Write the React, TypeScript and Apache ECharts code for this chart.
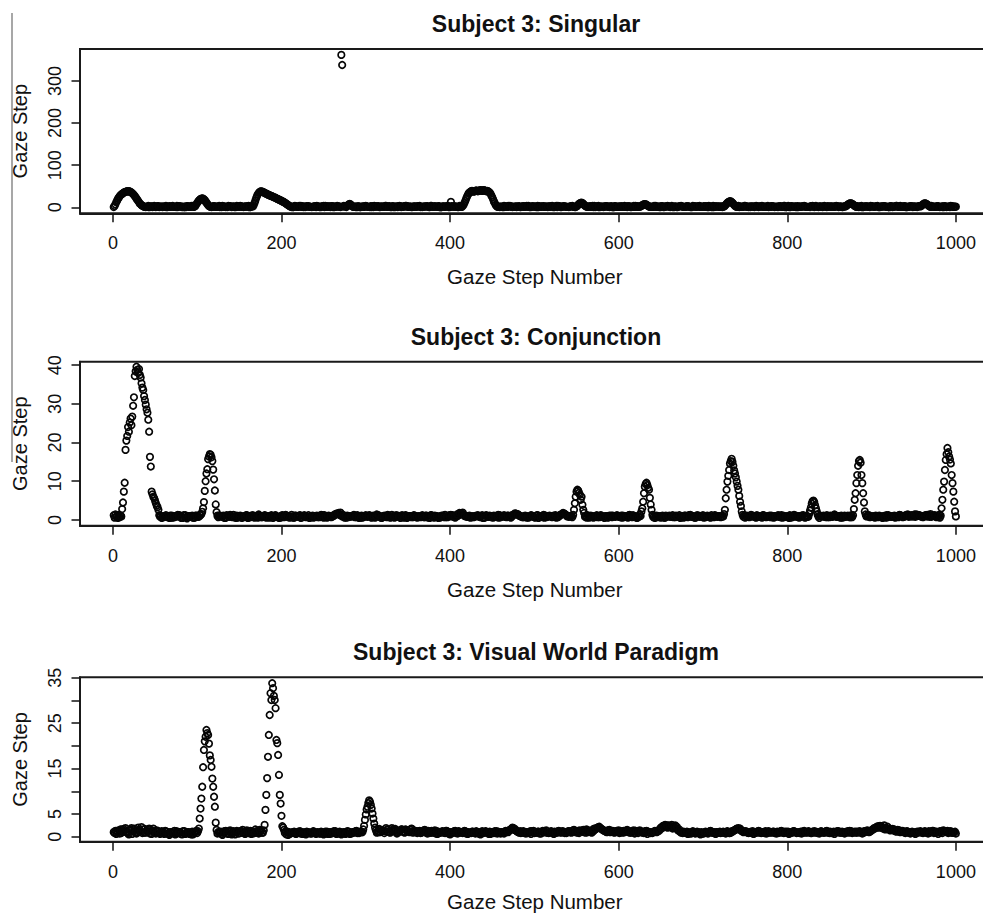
import React, { useEffect, useRef } from 'react';
import * as echarts from 'echarts';

const TITLES = ['Subject 3: Singular', 'Subject 3: Conjunction', 'Subject 3: Visual World Paradigm'];
const X_NAME = 'Gaze Step Number';
const Y_NAME = 'Gaze Step';
const X_TICKS = [0, 200, 400, 600, 800, 1000];
const SINGULAR_Y_TICKS = [0, 100, 200, 300];
const CONJ_Y_TICKS = [0, 10, 20, 30, 40];
const VWP_Y_TICKS = [0, 5, 10, 15, 20, 25, 30, 35];
const VWP_Y_LABELS = [0, 5, 15, 25, 35];

// baseline samples: gaze step number = offset + 3 * index (offset 1 for *BaseA, 2 for *BaseB, 3 for *BaseC)
const BASE_STEP = 3;

const singularBaseA = [
  1.5, 2.8, 0.6, 3.2, 1.1, 2.4, 0.3, 1.8, 3.5, 2.0, 0.7, 1.3, 2.6, 1.0, 0.4, 2.2, 3.0, 1.4, 0.5, 2.1,
  1.2, 0.3, 2.7, 1.6, 0.8, 3.1, 2.0, 0.5, 1.4, 2.5, 0.9, 1.7, 3.3, 0.6, 2.2, 1.0, 0.4, 2.9, 1.5, 0.8,
  2.3, 1.1, 0.5, 3.0, 1.8, 0.7, 2.6, 1.3, 0.4, 2.1, 3.4, 0.9, 1.6, 2.8, 0.6, 1.2, 2.4, 0.3, 1.9, 2.7,
  1.0, 0.6, 2.5, 1.4, 3.1, 0.8, 2.0, 1.2, 0.4, 2.9, 1.7, 0.5, 2.3, 1.1, 3.2, 0.7, 1.5, 2.6, 0.9, 1.8,
  0.5, 2.4, 1.3, 3.0, 0.8, 1.9, 2.7, 0.4, 1.6, 2.2, 1.0, 3.3, 0.6, 1.4, 2.8, 1.1, 0.3, 2.0, 1.7, 0.9,
  2.6, 1.2, 0.7, 3.1, 1.9, 0.5, 2.3, 1.5, 0.9, 2.9, 1.3, 0.4, 2.1, 3.4, 0.8, 1.6, 2.5, 1.0, 0.6, 2.2,
  1.4, 3.0, 0.7, 1.8, 2.6, 0.5, 1.2, 2.9, 1.0, 0.4, 2.3, 1.7, 3.2, 0.8, 1.5, 2.4, 0.6, 1.1, 2.8, 1.9,
  0.9, 2.5, 1.3, 0.5, 3.1, 1.8, 0.7, 2.2, 1.4, 2.9, 0.6, 1.6, 2.7, 1.0, 0.4, 2.3, 3.0, 1.2, 0.8, 2.0,
  1.5, 0.6, 2.8, 1.1, 3.3, 0.9, 1.7, 2.4, 0.5, 1.3, 2.9, 0.8, 2.1, 1.4, 0.4, 3.0, 1.9, 0.7, 2.5, 1.2,
  0.6, 2.2, 1.6, 3.2, 0.9, 2.7, 1.3, 0.5, 2.0, 1.0, 3.1, 1.8, 0.4, 2.4, 1.1, 2.9, 0.7, 1.5, 2.6, 0.8,
  1.9, 1.2, 3.0, 0.6, 2.3, 1.4, 0.8, 2.8, 1.1, 3.4, 0.5, 1.7, 2.5, 0.9, 2.1, 1.3, 0.4, 2.7, 1.6, 3.1,
  0.7, 2.0, 1.4, 0.5, 2.9, 1.8, 1.0, 2.4, 0.6, 3.2, 1.5, 2.2, 0.8, 1.2, 2.7, 0.4, 1.9, 3.0, 1.1, 2.3,
  0.9, 1.6, 2.8, 1.2, 0.5, 2.5, 1.7, 3.1, 0.8, 1.4, 2.6, 0.6, 2.0, 1.3, 3.3, 0.7, 1.8, 2.4, 1.0, 0.5,
  2.9, 1.5, 0.8, 2.2, 1.1, 3.0, 0.6, 1.9, 2.6, 1.3, 0.4, 2.3, 1.6, 3.2, 0.9, 1.2, 2.7, 0.5, 1.8, 2.1,
  1.0, 3.1, 0.7, 1.5, 2.4, 0.9, 2.8, 1.3, 0.5, 2.0, 1.7, 3.3, 0.8, 1.4, 2.6, 1.1, 0.4, 2.2, 1.9, 0.6,
  2.5, 1.2, 3.0, 0.7, 1.6, 2.3, 1.0, 2.9, 0.5, 1.8, 1.4, 3.2, 0.8, 2.1, 1.1, 2.7, 0.6, 1.5, 2.4, 1.0,
  3.0, 1.3, 0.6, 2.2, 1.7, 0.9, 2.8, 1.2, 0.4, 2.0, 1.6, 3.1, 0.8, 1.5,
];
const singularBaseB = [
  2.1, 0.8, 1.6, 2.9, 0.4, 1.9, 2.5, 1.0, 0.6, 2.7, 1.3, 3.1, 0.9, 1.7, 2.3, 0.5, 1.4, 2.8, 1.1, 0.7,
  2.4, 1.5, 0.9, 3.0, 1.2, 0.6, 2.2, 1.8, 0.4, 2.6, 1.0, 3.2, 1.4, 0.7, 2.0, 1.6, 2.9, 0.5, 1.3, 2.5,
  0.8, 1.9, 2.7, 1.1, 0.5, 3.1, 1.7, 2.2, 0.9, 1.4, 2.6, 0.6, 1.8, 3.0, 1.2, 0.4, 2.3, 1.5, 2.8, 1.0,
  1.6, 2.9, 0.7, 1.3, 2.4, 3.3, 0.9, 1.8, 1.1, 2.6, 0.5, 2.1, 1.4, 3.0, 0.8, 1.7, 2.5, 1.2, 0.6, 2.2,
  3.1, 1.0, 1.9, 0.5, 2.7, 1.4, 2.3, 0.8, 3.2, 1.6, 0.6, 2.0, 1.2, 2.8, 0.9, 1.5, 2.4, 0.4, 1.8, 2.6,
  1.1, 0.7, 2.9, 1.6, 2.2, 0.5, 1.3, 3.0, 1.9, 0.8, 2.5, 1.4, 0.6, 2.1, 1.7, 3.3, 1.0, 2.4, 0.9, 1.5,
  2.7, 0.6, 1.8, 2.3, 1.1, 3.1, 0.8, 1.5, 2.6, 0.4, 1.9, 1.3, 2.9, 0.7, 2.2, 1.6, 0.5, 2.8, 1.2, 2.0,
  1.4, 3.2, 0.9, 1.7, 2.5, 1.0, 0.6, 2.3, 1.8, 2.9, 0.5, 1.3, 2.1, 1.6, 3.0, 0.8, 1.9, 2.4, 1.1, 0.7,
  2.6, 1.5, 0.8, 3.1, 1.2, 2.0, 1.7, 0.4, 2.8, 1.4, 0.9, 2.3, 1.0, 3.3, 1.8, 0.6, 2.5, 1.3, 2.1, 0.9,
  1.7, 3.0, 0.5, 2.4, 1.1, 1.9, 2.7, 0.8, 1.4, 3.2, 0.6, 2.2, 1.5, 0.9, 2.8, 1.2, 1.8, 0.4, 2.5, 1.6,
  0.9, 2.3, 1.3, 2.9, 0.7, 1.6, 3.1, 1.0, 2.0, 0.5, 1.8, 2.6, 1.2, 0.8, 3.0, 1.5, 2.2, 0.6, 1.9, 2.7,
  1.1, 0.4, 2.4, 1.7, 3.3, 0.9, 1.4, 2.1, 0.6, 2.8, 1.3, 1.9, 0.8, 2.5, 1.0, 3.1, 1.6, 0.5, 2.3, 1.2,
  2.0, 1.5, 0.7, 2.9, 1.8, 1.1, 2.6, 0.5, 1.4, 3.0, 0.9, 2.2, 1.7, 0.6, 2.4, 1.3, 3.2, 0.8, 1.9, 1.0,
  2.7, 0.6, 1.5, 2.3, 1.0, 3.1, 1.8, 0.4, 2.0, 1.4, 2.8, 0.9, 1.6, 2.5, 1.2, 0.7, 3.0, 1.9, 1.1, 2.2,
  0.5, 1.7, 2.6, 1.3, 0.8, 2.9, 1.5, 2.1, 0.6, 3.3, 1.0, 1.8, 2.4, 0.9, 1.4, 2.7, 0.5, 2.0, 1.6, 3.0,
  1.2, 2.3, 0.7, 1.9, 2.8, 1.1, 0.6, 2.5, 1.4, 3.1, 0.9, 1.7, 2.2, 0.4, 1.5, 2.9, 1.3, 0.8, 2.6, 1.8,
  1.0, 2.4, 0.6, 3.0, 1.6, 2.1, 0.9, 1.4, 2.7, 0.5, 1.9, 2.3, 1.2,
];
const singularBaseC = [
  1.8, 0.5, 2.6, 1.2, 3.0, 0.8, 1.5, 2.3, 0.4, 2.9, 1.1, 1.9, 0.7, 3.2, 1.4, 2.1, 0.6, 2.7, 1.0, 1.6,
  3.1, 0.9, 2.0, 1.3, 0.5, 2.8, 1.7, 0.4, 2.4, 1.1, 3.3, 0.8, 1.5, 2.2, 0.6, 1.9, 2.9, 1.2, 0.7, 2.5,
  1.4, 3.0, 0.6, 2.1, 1.0, 2.7, 0.5, 1.8, 3.2, 1.3, 0.8, 2.3, 1.6, 0.4, 2.9, 1.1, 2.0, 0.7, 3.1, 1.5,
  0.9, 2.4, 1.2, 0.5, 3.0, 1.8, 2.6, 0.7, 1.4, 2.2, 0.4, 3.3, 1.0, 1.7, 2.8, 0.6, 2.1, 1.3, 0.8, 2.7,
  1.6, 0.4, 2.3, 3.1, 1.1, 0.7, 2.9, 1.5, 2.0, 0.5, 1.8, 2.6, 1.2, 3.2, 0.8, 1.4, 2.4, 0.6, 1.9, 3.0,
  1.0, 2.5, 0.5, 1.7, 2.8, 1.3, 0.9, 3.1, 1.6, 0.4, 2.2, 1.1, 2.7, 0.7, 1.9, 3.3, 1.4, 0.6, 2.3, 1.2,
  2.9, 0.8, 1.5, 2.4, 0.5, 3.0, 1.8, 1.1, 2.6, 0.7, 1.3, 2.1, 0.4, 2.8, 1.6, 1.0, 3.2, 1.9, 0.6, 2.2,
  1.3, 2.7, 0.9, 1.6, 3.1, 0.5, 2.3, 1.4, 0.8, 2.9, 1.2, 2.0, 0.6, 1.7, 2.5, 1.0, 3.3, 0.7, 1.5, 2.4,
  0.6, 1.9, 2.8, 1.1, 0.4, 2.6, 1.5, 3.0, 0.9, 2.1, 1.3, 0.5, 2.7, 1.8, 1.0, 3.2, 0.7, 2.3, 1.6, 0.8,
  2.5, 1.2, 0.6, 3.1, 1.7, 2.2, 0.9, 1.4, 2.8, 0.5, 1.9, 3.0, 1.1, 0.7, 2.4, 1.5, 2.9, 0.4, 1.8, 1.3,
  2.6, 0.8, 1.6, 2.1, 0.5, 3.2, 1.0, 1.9, 2.7, 1.3, 0.6, 2.3, 1.7, 3.0, 0.9, 1.4, 2.5, 0.7, 2.0, 1.1,
  3.1, 1.5, 0.6, 2.4, 1.8, 0.9, 2.9, 1.2, 0.5, 2.2, 1.6, 3.3, 0.8, 1.3, 2.6, 1.0, 0.4, 2.8, 1.7, 2.1,
  0.7, 1.4, 3.0, 1.9, 0.6, 2.5, 1.1, 2.0, 0.9, 3.2, 1.5, 0.5, 2.3, 1.8, 1.2, 2.7, 0.8, 1.6, 3.1, 1.0,
  2.2, 1.3, 0.7, 2.8, 1.5, 0.4, 3.0, 1.9, 1.1, 2.4, 0.6, 1.7, 2.9, 1.0, 0.8, 2.5, 1.4, 3.2, 0.5, 1.8,
  2.6, 0.9, 1.6, 2.2, 1.2, 3.1, 0.7, 1.4, 2.0, 0.5, 2.8, 1.7, 1.0, 2.3, 0.6, 3.0, 1.5, 1.9, 0.8, 2.4,
  1.1, 2.9, 0.6, 1.8, 2.5, 1.3, 0.4, 2.1, 1.7, 3.3, 0.9, 1.5, 2.7, 0.7, 1.2, 2.3, 1.9, 0.5, 2.8, 1.4,
  2.0, 0.8, 3.1, 1.6, 1.1, 2.5, 0.6, 1.9, 2.4, 1.0, 0.7, 2.8, 1.3,
];

// [first gaze step number, consecutive values]
const singularPeaks: [number, number[]][] = [
  [1, [0.5, 3, 7, 12, 16, 20, 23, 26, 28.5, 30.5, 32, 33.5, 35, 36, 36.5, 37.5, 38, 38.5, 38, 37.5, 36.5, 35, 33.5, 31.5, 29, 26.5, 24, 21, 18, 15, 12, 9, 7, 5, 3.5, 2.5, 1.5, 1]],
  [97, [2, 4, 7, 10, 13, 16, 18, 19.5, 20.5, 21, 20.5, 19, 17, 14, 11, 8, 5, 3, 2, 1]],
  [166, [2, 5, 10, 16, 22, 27, 31, 34, 36, 37.5, 38, 37, 36.5, 35, 34.5, 33, 32.5, 31.5, 30, 29.5, 28, 27.5, 27, 25.5, 25, 24, 23.5, 22, 21.5, 20, 19.5, 18, 17.5, 16, 15.5, 14, 13.5, 12, 11, 9.5, 8, 6.5, 5, 3.5, 2.5, 1.5, 1]],
  [271, [362, 338]],
  [278, [3, 5, 7, 8, 6.5, 4.5, 2.5]],
  [401, [13]],
  [414, [1, 3, 6, 10, 15, 20, 25, 29, 33, 35, 37, 38, 39, 38, 37, 38, 39, 40, 39, 38, 39, 40, 41, 40, 39, 40, 41, 40, 39, 38, 39, 38, 37, 35, 32, 28, 24, 19, 14, 10, 6, 3, 1.5, 1]],
  [550, [2, 4, 6, 8, 9.5, 10.5, 11, 10, 8, 6, 4, 2.5, 1.5]],
  [626, [2, 3.5, 5, 6, 7, 7.5, 7, 6, 4.5, 3, 2, 1]],
  [725, [2, 4, 6, 8.5, 10.5, 12.5, 13.5, 14.5, 14, 12.5, 10.5, 8, 5.5, 3.5, 2, 1]],
  [869, [2, 3.5, 5, 6.5, 8, 9, 9.5, 9, 8, 6.5, 5, 3.5, 2, 1]],
  [958, [2, 3.5, 5.5, 7, 8.5, 9.5, 9, 8, 6.5, 5, 3.5, 2, 1]],
];

const conjBaseA = [
  1.1, 0.6, 1.3, 0.8, 1.0, 0.5, 1.2, 0.7, 0.9, 1.4, 0.6, 1.1, 0.8, 1.3, 0.5, 1.0, 0.7, 1.2, 0.9, 0.6,
  1.0, 0.8, 0.5, 1.1, 0.7, 0.9, 1.2, 0.6, 1.0, 0.4, 0.8, 1.1, 0.6, 0.9, 1.3, 0.7, 1.0, 0.5, 0.8, 1.2,
  0.9, 0.6, 1.1, 0.8, 0.5, 1.0, 1.3, 0.7, 0.9, 0.6, 1.1, 0.8, 1.0, 0.5, 0.7, 1.2, 0.9, 0.6, 1.0, 0.8,
  1.1, 0.7, 0.9, 0.5, 1.2, 0.8, 0.6, 1.0, 1.3, 0.7, 0.9, 0.6, 1.1, 0.8, 0.5, 1.0, 0.7, 1.2, 0.9, 0.6,
  1.0, 0.8, 1.3, 0.6, 0.9, 1.1, 0.7, 1.0, 1.5, 1.8, 1.2, 0.8, 0.6, 1.0, 0.9, 1.3, 0.7, 0.5, 1.1, 0.8,
  0.9, 1.2, 0.6, 1.0, 1.4, 0.8, 0.5, 1.1, 0.7, 0.9, 1.3, 0.6, 1.0, 0.8, 1.2, 0.7, 0.5, 1.0, 0.9, 1.1,
  0.6, 0.8, 1.2, 0.7, 1.0, 0.5, 0.9, 1.1, 0.8, 0.6, 1.0, 1.3, 0.7, 0.9, 1.2, 0.6, 1.0, 1.6, 1.9, 1.1,
  0.8, 0.6, 1.0, 0.9, 1.2, 0.7, 0.5, 1.1, 0.8, 1.0, 0.6, 0.9, 1.3, 0.7, 1.0, 0.8, 1.1, 0.6, 1.2, 1.6,
  1.4, 0.9, 0.7, 1.0, 0.6, 1.2, 0.8, 1.0, 0.5, 0.9, 1.3, 0.7, 1.0, 0.8, 1.1, 0.6, 0.9, 1.4, 1.7, 1.2,
  0.8, 1.0, 0.7, 0.9, 1.0, 0.8, 0.9, 1.1, 0.6, 1.0, 0.8, 1.2, 0.7, 0.9, 0.5, 1.0, 1.1, 0.7, 0.9, 1.2,
  0.8, 0.6, 1.0, 0.9, 1.3, 0.7, 1.0, 0.5, 0.8, 1.1, 0.9, 0.6, 1.0, 0.8, 1.2, 0.7, 0.9, 1.1, 0.6, 1.0,
  0.8, 1.2, 0.7, 0.9, 0.5, 1.0, 1.1, 0.7, 1.3, 0.8, 0.6, 1.0, 0.9, 1.2, 0.7, 1.0, 0.6, 0.8, 1.1, 0.9,
  0.7, 1.0, 0.8, 1.2, 0.6, 0.9, 1.0, 0.8, 1.1, 0.7, 1.0, 0.8, 1.3, 0.9, 0.6, 1.0, 0.8, 1.2, 0.7, 0.9,
  1.1, 0.6, 1.0, 0.8, 1.2, 0.7, 0.9, 0.5, 1.0, 1.3, 0.8, 0.6, 1.1, 0.9, 1.0, 0.7, 1.2, 0.8, 0.9, 0.6,
  1.0, 0.8, 1.2, 0.7, 0.9, 1.4, 0.8, 1.0, 0.6, 1.1, 0.9, 0.7, 1.0, 1.2, 0.8, 0.6, 1.0, 0.9, 1.1, 0.7,
  0.9, 0.6, 1.0, 0.8, 0.5, 1.1, 0.7, 0.9, 1.0, 0.6, 0.8, 1.2, 0.7, 1.0, 1.4, 0.9, 1.1, 0.8, 1.3, 1.0,
  0.7, 1.2, 0.9, 1.5, 1.1, 0.8, 1.0, 0.6, 0.9, 1.2, 0.7, 1.0, 0.8, 1.1,
];
const conjBaseB = [
  0.8, 1.2, 0.6, 1.0, 0.9, 1.3, 0.5, 1.1, 0.7, 1.0, 1.2, 0.8, 0.6, 1.1, 0.9, 1.4, 0.7, 1.0, 0.5, 1.2,
  0.9, 0.7, 1.1, 0.6, 1.0, 1.3, 0.8, 0.5, 1.2, 0.9, 1.0, 0.6, 1.1, 0.8, 0.7, 1.2, 0.5, 0.9, 1.0, 0.8,
  1.2, 0.7, 0.9, 1.1, 0.6, 1.0, 0.8, 1.3, 0.5, 1.0, 0.9, 0.7, 1.2, 0.6, 1.1, 0.8, 1.0, 1.4, 0.7, 0.9,
  0.6, 1.0, 1.2, 0.8, 0.9, 0.5, 1.1, 0.7, 1.0, 0.8, 1.3, 0.6, 0.9, 1.1, 0.7, 1.2, 0.8, 0.5, 1.0, 0.9,
  1.1, 0.7, 0.9, 1.2, 0.6, 1.0, 0.8, 1.4, 1.7, 1.3, 0.9, 0.6, 1.1, 0.8, 1.0, 0.7, 1.2, 0.9, 0.6, 1.0,
  0.8, 1.1, 0.9, 0.6, 1.2, 1.0, 0.7, 0.9, 1.3, 0.6, 1.0, 0.8, 1.1, 0.5, 0.9, 1.2, 0.8, 1.0, 0.7, 0.9,
  1.0, 0.7, 0.9, 1.1, 0.6, 1.2, 0.8, 1.0, 0.5, 0.9, 1.1, 0.7, 1.0, 1.3, 0.8, 0.9, 1.2, 1.7, 1.4, 0.9,
  1.0, 0.8, 0.7, 1.1, 0.9, 1.0, 0.6, 1.2, 0.8, 0.7, 1.1, 1.0, 0.6, 0.9, 1.2, 0.7, 1.0, 0.8, 1.4, 1.5,
  1.1, 0.8, 1.0, 0.6, 0.9, 1.1, 0.7, 1.2, 0.8, 1.0, 0.6, 0.9, 1.1, 0.7, 1.0, 0.8, 1.2, 1.6, 1.5, 0.9,
  1.0, 0.7, 1.1, 0.8, 0.9, 1.0, 0.6, 1.2, 0.8, 0.9, 1.0, 0.7, 1.1, 0.8, 1.0, 0.6, 0.9, 1.1, 0.8, 1.0,
  0.7, 1.1, 0.9, 0.6, 1.0, 1.2, 0.8, 0.9, 0.6, 1.0, 1.1, 0.8, 0.7, 1.2, 0.9, 1.0, 0.6, 0.8, 1.1, 0.9,
  1.0, 0.7, 1.1, 0.8, 1.0, 0.6, 0.9, 1.2, 0.8, 1.0, 0.7, 1.1, 0.9, 0.6, 1.0, 0.8, 1.2, 0.7, 0.9, 1.0,
  0.8, 1.1, 0.9, 0.7, 1.0, 1.2, 0.6, 0.9, 1.0, 0.8, 1.1, 0.7, 0.9, 1.0, 1.2, 0.8, 0.6, 1.0, 0.9, 1.1,
  0.7, 1.0, 0.9, 1.1, 0.6, 1.0, 0.8, 1.2, 0.7, 0.9, 1.0, 0.8, 1.1, 0.6, 0.9, 1.2, 0.8, 1.0, 0.7, 1.1,
  0.9, 1.0, 0.7, 1.1, 0.8, 1.2, 0.9, 0.6, 1.0, 0.8, 1.1, 0.7, 1.3, 0.9, 1.0, 0.8, 0.6, 1.1, 0.9, 1.0,
  0.8, 1.1, 0.7, 0.9, 1.0, 0.6, 1.2, 0.8, 1.0, 0.9, 0.7, 1.1, 1.0, 1.3, 0.8, 1.2, 0.9, 1.4, 1.1, 0.8,
  1.0, 0.9, 1.3, 0.8, 1.1, 0.7, 1.0, 1.2, 0.8, 0.9, 1.1, 0.6, 1.0,
];
const conjBaseC = [
  0.9, 1.1, 0.7, 1.2, 0.6, 1.0, 0.8, 1.3, 0.9, 0.5, 1.1, 0.7, 1.0, 1.2, 0.6, 0.9, 1.1, 0.8, 1.0, 0.7,
  1.2, 0.8, 0.6, 1.0, 0.9, 1.1, 0.5, 1.2, 0.7, 1.0, 0.9, 0.6, 1.1, 0.8, 1.0, 1.3, 0.7, 0.9, 0.6, 1.0,
  0.8, 1.1, 0.9, 0.6, 1.2, 0.8, 1.0, 0.7, 1.1, 0.9, 0.5, 1.0, 1.2, 0.8, 0.9, 0.6, 1.1, 1.0, 0.7, 1.2,
  0.9, 0.6, 1.0, 1.1, 0.8, 0.7, 1.2, 0.9, 1.0, 0.6, 0.8, 1.1, 0.9, 1.2, 0.7, 1.0, 0.8, 0.6, 1.1, 0.9,
  0.7, 1.0, 1.2, 0.8, 1.0, 0.9, 1.1, 1.4, 1.6, 1.9, 1.3, 1.0, 0.7, 0.9, 1.1, 0.8, 1.0, 0.6, 0.9, 1.2,
  1.0, 0.7, 1.1, 0.9, 1.2, 0.6, 1.0, 0.8, 1.1, 0.7, 0.9, 1.2, 0.8, 1.0, 0.6, 1.1, 0.9, 0.7, 1.2, 0.8,
  0.9, 1.0, 0.7, 1.1, 0.8, 1.2, 0.6, 1.0, 0.9, 1.1, 0.7, 0.8, 1.2, 1.0, 0.9, 1.4, 1.8, 1.5, 1.0, 0.8,
  1.1, 0.7, 0.9, 1.0, 0.8, 1.2, 0.6, 0.9, 1.1, 0.8, 1.0, 0.7, 1.2, 0.9, 0.8, 1.1, 0.9, 1.3, 1.7, 1.4,
  1.0, 0.7, 1.1, 0.9, 0.8, 1.0, 0.6, 1.2, 0.9, 0.7, 1.1, 0.8, 1.0, 0.9, 1.2, 0.7, 1.3, 1.8, 1.4, 1.0,
  0.9, 1.1, 0.8, 1.0, 0.7, 1.2, 0.9, 0.8, 1.1, 0.6, 1.0, 0.9, 1.2, 0.8, 1.0, 0.7, 1.1, 0.9, 1.0, 0.8,
  1.1, 0.7, 0.9, 1.2, 0.8, 1.0, 0.6, 1.1, 0.9, 0.8, 1.0, 1.2, 0.7, 0.9, 1.1, 0.8, 1.0, 0.6, 0.9, 1.1,
  0.8, 1.0, 0.9, 1.2, 0.7, 1.1, 0.8, 0.9, 1.0, 0.6, 1.2, 0.8, 1.0, 0.9, 1.1, 0.7, 0.9, 1.2, 0.8, 1.0,
  0.9, 1.2, 0.7, 1.0, 0.8, 1.1, 0.9, 0.6, 1.0, 1.2, 0.8, 0.9, 1.1, 0.7, 1.0, 0.9, 1.2, 0.8, 1.0, 0.7,
  1.0, 0.9, 1.2, 0.7, 1.1, 0.8, 1.0, 0.6, 0.9, 1.1, 1.0, 0.8, 1.2, 0.7, 0.9, 1.0, 0.8, 1.1, 0.6, 1.0,
  1.1, 0.7, 1.0, 0.9, 1.2, 0.8, 1.0, 1.1, 0.7, 0.9, 1.0, 1.2, 0.8, 1.0, 0.7, 1.1, 0.9, 1.0, 1.2, 0.8,
  1.0, 0.8, 1.1, 0.7, 0.9, 1.2, 1.0, 0.8, 1.1, 0.9, 1.3, 1.0, 0.8, 1.2, 1.1, 0.9, 1.4, 1.0, 1.2, 0.9,
  1.1, 1.3, 0.8, 1.0, 1.2, 0.9, 1.1, 0.7, 1.0, 1.2, 0.9, 1.0, 0.8,
];

const conjPeaks: [number, number[]][] = [
  [1, [1.2, 0.6, 1.4, 0.8, 1.0, 0.5, 1.3, 0.7, 1.1, 0.9, 2.8, 4.5, 7.3, 9.6, 18.1, 20.5, 21.7, 24.0, 22.8, 25.2, 26.2, 24.5, 26.7, 29.5, 31.7, 37.2, 38.4, 39.6, 38.8, 38.0, 39.0, 37.5, 36.8, 35.3, 34.2, 33.6, 32.0, 31.0, 29.8, 28.6, 27.7, 25.9, 22.8, 16.3, 13.8, 7.3, 6.6, 6.0, 5.6, 5.0, 4.3, 3.7, 3.3, 2.6, 1.2, 0.8, 1.0, 0.5, 0.9, 0.7]],
  [104, [1.2, 1.5, 2.1, 3.0, 4.6, 7.5, 10.0, 12.0, 13.1, 15.7, 16.4, 17.0, 16.8, 16.2, 15.2, 13.0, 10.5, 7.6, 4.0, 2.0, 1.1]],
  [546, [1.3, 2.6, 4.3, 6.0, 7.3, 7.8, 7.6, 7.0, 6.5, 5.2, 6.0, 3.9, 2.6, 1.8, 0.8, 1.1, 0.6]],
  [624, [0.8, 1.4, 1.0, 2.2, 3.0, 4.7, 6.9, 8.6, 9.3, 9.6, 9.0, 8.3, 7.8, 5.7, 4.0, 2.6, 1.3, 0.7, 1.1, 0.5]],
  [724, [0.9, 1.5, 2.6, 5.6, 7.8, 9.9, 11.4, 12.9, 14.6, 15.2, 15.8, 15.0, 14.0, 12.8, 12.0, 11.0, 9.9, 8.8, 7.8, 6.2, 4.7, 3.6, 2.2, 1.3, 0.8, 1.2, 0.6]],
  [825, [0.8, 1.6, 2.4, 3.2, 4.2, 4.8, 5.0, 4.6, 3.8, 3.0, 2.2, 1.4, 0.9, 0.5]],
  [877, [0.7, 1.2, 2.8, 5.2, 6.9, 9.5, 11.6, 14.0, 15.2, 15.5, 14.8, 11.6, 9.5, 6.9, 4.5, 2.2, 1.4, 0.9]],
  [979, [0.9, 1.3, 0.6, 1.1, 3.0, 5.2, 7.8, 9.9, 12.9, 15.5, 17.0, 18.6, 17.5, 16.4, 15.6, 14.6, 11.6, 9.5, 7.3, 4.7, 2.2, 0.9]],
];

const vwpBaseA = [
  1.0, 0.6, 1.4, 0.8, 1.7, 1.1, 0.5, 1.9, 1.2, 0.7, 1.5, 2.1, 0.9, 1.3, 1.8, 0.6, 1.0, 1.4, 0.8, 1.2,
  0.6, 1.1, 0.4, 0.9, 1.3, 0.7, 1.0, 0.5, 1.2, 0.8, 0.6, 1.1, 0.9, 0.5, 1.0, 0.7, 1.3, 0.8, 0.6, 1.0,
  0.5, 1.2, 0.8, 0.4, 1.0, 0.7, 1.4, 0.9, 0.5, 1.1, 0.8, 1.5, 0.6, 1.0, 1.3, 0.7, 1.6, 0.9, 1.2, 0.8,
  1.0, 0.7, 0.9, 0.5, 1.1, 0.8, 0.6, 1.0, 1.2, 0.4, 0.8, 1.0, 0.6, 1.1, 0.7, 0.9, 0.5, 1.0, 0.8, 1.2,
  0.6, 0.9, 1.1, 0.5, 0.8, 1.0, 0.7, 1.2, 0.6, 0.9, 0.5, 1.0, 0.8, 1.1, 0.7, 0.9, 1.3, 0.8, 1.0, 1.2,
  1.6, 1.1, 1.8, 1.4, 0.9, 1.7, 1.2, 0.8, 1.5, 1.0, 1.9, 1.3, 0.7, 1.1, 1.6, 0.9, 1.4, 1.0, 1.7, 1.2,
  0.8, 1.3, 1.0, 1.5, 0.7, 1.1, 0.9, 1.4, 0.6, 1.0, 1.2, 0.8, 1.1, 0.5, 0.9, 1.3, 0.7, 1.0, 0.8, 1.2,
  0.6, 0.9, 1.1, 0.7, 1.0, 0.5, 0.8, 1.2, 0.9, 0.6, 1.0, 0.8, 1.1, 0.7, 0.9, 1.3, 1.0, 1.6, 1.9, 1.4,
  1.0, 0.8, 1.2, 0.7, 1.0, 0.6, 1.3, 0.9, 1.1, 0.7, 1.0, 1.4, 0.8, 1.2, 0.6, 1.0, 1.3, 0.9, 1.1, 0.8,
  1.2, 0.9, 1.5, 1.1, 0.8, 1.3, 1.0, 1.6, 1.2, 0.9, 1.4, 1.8, 2.2, 1.7, 1.3, 1.0, 1.5, 1.1, 0.9, 1.3,
  0.8, 1.2, 1.0, 1.5, 0.9, 1.3, 0.7, 1.1, 1.4, 0.9, 1.2, 0.6, 1.0, 0.8, 1.3, 1.1, 1.7, 2.3, 2.6, 2.0,
  2.4, 1.8, 2.5, 1.5, 1.1, 0.8, 1.0, 0.6, 0.9, 1.2, 0.7, 1.0, 0.5, 0.8, 1.1, 0.7, 1.3, 0.9, 0.6, 1.0,
  0.8, 1.1, 0.7, 1.0, 0.9, 1.3, 1.6, 1.9, 1.4, 1.0, 1.2, 0.8, 1.1, 0.6, 0.9, 1.3, 0.8, 1.0, 0.7, 1.2,
  0.9, 1.1, 0.7, 1.0, 1.3, 0.8, 1.1, 0.6, 1.0, 1.2, 0.8, 1.0, 0.7, 1.3, 0.9, 1.1, 0.8, 1.2, 1.0, 0.7,
  1.1, 0.9, 1.3, 0.8, 1.0, 0.6, 1.2, 0.9, 1.1, 0.7, 1.0, 1.3, 0.8, 1.1, 0.9, 1.2, 0.7, 1.0, 1.4, 1.1,
  1.5, 1.8, 2.1, 2.4, 1.9, 1.6, 2.2, 1.4, 1.7, 1.2, 1.5, 1.0, 1.3, 0.8, 1.1, 0.7, 1.0, 0.6, 0.9, 1.2,
  0.8, 1.1, 0.7, 1.0, 1.3, 0.9, 0.6, 1.0, 1.4, 1.1, 0.8, 1.2, 0.9, 0.7,
];
const vwpBaseB = [
  0.8, 1.3, 0.7, 1.6, 1.2, 0.9, 1.5, 0.6, 1.8, 1.0, 1.3, 0.8, 1.7, 1.1, 0.7, 1.4, 0.9, 1.2, 0.6, 1.0,
  1.3, 0.7, 1.0, 0.8, 0.5, 1.1, 0.9, 1.2, 0.6, 1.0, 0.8, 0.5, 1.2, 0.7, 1.1, 0.9, 0.6, 1.0, 1.2, 0.8,
  1.0, 0.7, 1.1, 0.9, 1.3, 0.6, 0.8, 1.2, 1.0, 0.7, 1.3, 0.9, 1.1, 0.8, 0.6, 1.0, 1.2, 0.7, 1.4, 1.0,
  0.8, 1.1, 0.6, 1.0, 0.9, 0.7, 1.2, 0.8, 0.5, 1.0, 0.9, 1.1, 0.7, 0.8, 1.0, 0.6, 1.1, 0.9, 0.7, 1.0,
  0.9, 0.7, 1.0, 0.8, 1.1, 0.6, 0.9, 1.0, 0.8, 1.1, 0.7, 0.9, 1.2, 0.6, 1.0, 1.1, 0.8, 1.0, 1.4, 1.2,
  1.3, 1.7, 1.1, 1.5, 1.9, 1.0, 1.4, 1.2, 1.6, 0.9, 1.3, 1.7, 1.0, 1.4, 1.1, 1.6, 1.2, 1.5, 0.9, 1.3,
  1.1, 0.8, 1.2, 1.0, 1.3, 0.9, 1.2, 0.7, 1.1, 0.9, 1.0, 1.3, 0.7, 1.0, 1.1, 0.8, 1.2, 0.9, 1.0, 0.7,
  1.0, 0.8, 0.9, 1.2, 0.7, 1.0, 0.9, 1.1, 0.6, 1.0, 0.8, 1.2, 0.9, 1.0, 0.7, 1.1, 1.4, 1.8, 1.5, 1.2,
  0.9, 1.1, 0.8, 1.0, 0.9, 1.2, 0.8, 1.0, 0.7, 1.1, 1.2, 0.9, 1.0, 0.8, 1.1, 0.9, 1.0, 1.2, 0.8, 1.0,
  1.0, 1.3, 1.1, 0.9, 1.4, 1.2, 1.5, 1.0, 1.3, 1.1, 1.6, 2.0, 1.9, 1.5, 1.2, 1.4, 1.0, 1.3, 1.1, 1.0,
  1.1, 0.9, 1.3, 1.2, 1.0, 1.1, 1.3, 0.8, 1.2, 1.0, 0.9, 1.1, 0.8, 1.0, 1.2, 1.4, 2.0, 2.4, 2.2, 2.5,
  2.1, 2.2, 1.9, 1.3, 0.9, 1.1, 0.8, 1.0, 0.7, 1.0, 0.9, 0.8, 1.0, 0.7, 0.9, 1.0, 1.1, 0.8, 1.0, 0.9,
  1.0, 0.9, 1.1, 0.8, 1.2, 1.4, 1.8, 1.6, 1.2, 1.1, 1.0, 0.9, 0.8, 1.0, 1.1, 0.9, 1.0, 0.8, 1.1, 1.0,
  1.0, 0.8, 1.1, 0.9, 1.0, 1.1, 0.8, 1.0, 0.9, 1.1, 0.9, 0.8, 1.1, 1.0, 1.0, 0.9, 1.1, 0.9, 0.8, 1.0,
  1.0, 1.1, 0.9, 1.1, 0.8, 1.0, 1.1, 1.0, 0.9, 1.0, 1.2, 1.0, 1.0, 0.9, 1.1, 1.0, 0.9, 1.2, 1.1, 1.3,
  1.7, 2.0, 2.3, 2.1, 1.8, 1.9, 1.6, 1.5, 1.4, 1.3, 1.2, 1.1, 1.0, 1.1, 0.9, 1.0, 0.8, 1.0, 1.1, 1.0,
  1.0, 0.9, 1.2, 1.1, 0.8, 1.1, 1.0, 1.2, 1.3, 1.0, 1.1, 0.9, 1.0,
];
const vwpBaseC = [
  1.3, 0.9, 1.6, 1.1, 1.9, 0.8, 1.4, 1.7, 1.0, 2.0, 1.2, 1.6, 0.9, 1.5, 1.1, 1.8, 0.7, 1.2, 1.0, 0.8,
  1.1, 0.6, 1.0, 0.8, 1.2, 0.9, 0.6, 1.1, 0.8, 1.0, 0.5, 0.9, 1.2, 0.7, 1.0, 0.8, 1.1, 0.6, 1.0, 0.9,
  0.7, 1.0, 0.6, 1.2, 0.8, 1.1, 0.5, 1.0, 1.3, 0.8, 1.1, 0.7, 1.4, 0.9, 1.2, 0.8, 1.0, 1.5, 0.9, 1.1,
  0.8, 1.0, 0.6, 0.9, 1.2, 0.7, 1.0, 0.8, 1.1, 0.6, 0.9, 1.0, 0.8, 1.2, 0.6, 1.0, 0.9, 0.7, 1.1, 0.8,
  1.0, 0.7, 0.9, 1.1, 0.6, 1.0, 0.8, 1.2, 0.7, 1.0, 0.9, 0.6, 1.1, 0.8, 1.0, 1.2, 0.9, 1.1, 0.8, 1.0,
  1.4, 1.8, 1.2, 1.6, 1.0, 1.5, 1.3, 1.9, 1.1, 1.4, 1.7, 1.0, 1.3, 1.6, 1.2, 1.5, 1.1, 1.8, 1.3, 1.0,
  1.2, 0.9, 1.4, 1.1, 0.8, 1.3, 1.0, 1.2, 0.8, 1.1, 0.9, 1.3, 1.0, 0.8, 1.2, 0.9, 1.1, 1.0, 1.3, 0.9,
  0.8, 1.1, 0.9, 1.0, 0.7, 1.2, 1.0, 0.8, 1.1, 0.9, 1.2, 0.7, 1.0, 0.9, 1.1, 1.2, 1.5, 2.0, 1.7, 1.1,
  1.2, 0.9, 1.0, 0.8, 1.2, 1.0, 0.9, 1.1, 0.8, 1.3, 1.0, 0.9, 1.1, 1.0, 0.8, 1.2, 1.0, 1.1, 0.9, 1.2,
  1.1, 1.4, 1.0, 1.3, 1.2, 1.5, 0.9, 1.4, 1.1, 1.7, 1.9, 2.1, 1.8, 1.4, 1.1, 1.3, 1.2, 1.0, 1.2, 1.4,
  1.0, 1.3, 1.1, 1.2, 0.9, 1.4, 1.0, 1.2, 1.1, 0.8, 1.3, 1.0, 0.9, 1.1, 1.0, 1.3, 1.8, 2.2, 2.5, 2.3,
  2.6, 2.0, 2.2, 1.6, 1.0, 0.9, 1.1, 0.7, 1.0, 0.8, 1.1, 0.9, 0.7, 1.0, 0.8, 1.2, 0.9, 1.0, 0.8, 1.1,
  0.9, 1.0, 1.2, 0.8, 1.1, 1.5, 1.7, 1.8, 1.3, 1.1, 0.9, 1.0, 1.2, 0.8, 1.0, 1.1, 0.9, 1.2, 0.8, 1.0,
  1.1, 1.0, 0.8, 1.2, 0.9, 1.0, 1.1, 0.8, 1.2, 1.0, 0.9, 1.1, 0.9, 1.0, 1.2, 0.8, 1.0, 1.1, 0.9, 1.2,
  0.9, 1.2, 1.0, 0.8, 1.1, 1.0, 1.2, 0.9, 1.0, 1.1, 0.9, 1.2, 1.0, 1.1, 1.0, 0.9, 1.2, 1.3, 1.0, 1.4,
  1.9, 2.2, 2.0, 2.3, 2.5, 1.7, 1.8, 1.5, 1.6, 1.1, 1.4, 1.2, 1.0, 1.2, 0.9, 1.1, 0.9, 1.1, 1.0, 0.9,
  1.2, 1.0, 0.9, 1.3, 1.1, 1.0, 1.2, 0.8, 1.1, 1.3, 1.0, 0.9, 1.1,
];

const vwpPeaks: [number, number[]][] = [
  [100, [0.8, 1.2, 1.8, 4.0, 6.2, 8.4, 11.0, 15.3, 19.1, 21.0, 22.0, 23.5, 22.8, 22.4, 20.5, 17.9, 16.9, 15.4, 12.8, 11.0, 8.8, 6.6, 3.1, 1.5, 0.7, 1.0]],
  [178, [0.9, 1.4, 2.6, 5.9, 9.2, 12.9, 17.6, 22.4, 26.8, 31.6, 30.1, 33.8, 32.7, 31.0, 30.1, 28.3, 21.3, 20.6, 18.0, 13.6, 9.2, 7.3, 4.6, 2.3, 2.0, 1.5, 0.8]],
  [296, [1.0, 1.6, 2.4, 3.7, 4.9, 6.0, 6.6, 7.4, 8.0, 7.7, 7.0, 6.2, 5.1, 4.0, 2.9, 2.0, 1.4, 0.9, 1.2]],
];

const Y_RANGES: [number, number][] = [[-14.3, 376], [-1.5, 40.9], [-1.1, 35.1]];
const GRID_TOPS = [49, 361.7, 677.3];
const GRID_HEIGHTS = [164.3, 164, 164.4];
const X_NAME_GAPS = [53, 53, 49];

function buildPoints(bases: number[][], peaks: [number, number[]][]) {
  const pts: number[][] = [];
  const inPeak = (x: number) => peaks.some(([s, v]) => x >= s && x < s + v.length);
  bases.forEach((arr, k) =>
    arr.forEach((y, i) => {
      const x = k + 1 + i * BASE_STEP;
      if (!inPeak(x)) pts.push([x, y]);
    }),
  );
  peaks.forEach(([s, v]) => v.forEach((y, j) => pts.push([s + j, y])));
  return pts;
}

const MAIN_FONT = '"Liberation Sans", Arial, Helvetica, sans-serif';
const INK = '#111';

export default function App() {
  const ref = useRef<HTMLDivElement>(null);
  useEffect(() => {
    if (!ref.current) return;
    const chart = echarts.init(ref.current, undefined, { renderer: 'svg' });
    const datasets = [
      buildPoints([singularBaseA, singularBaseB, singularBaseC], singularPeaks),
      buildPoints([conjBaseA, conjBaseB, conjBaseC], conjPeaks),
      buildPoints([vwpBaseA, vwpBaseB, vwpBaseC], vwpPeaks),
    ];
    const yTicks = [SINGULAR_Y_TICKS, CONJ_Y_TICKS, VWP_Y_TICKS];
    const yLabels = [SINGULAR_Y_TICKS, CONJ_Y_TICKS, VWP_Y_LABELS];
    const grids = GRID_TOPS.map((top, i) => ({
      left: 80,
      top,
      width: 909.6,
      height: GRID_HEIGHTS[i],
      show: true,
      borderColor: '#1a1a1a',
      borderWidth: 2,
      backgroundColor: 'transparent',
      containLabel: false,
      outerBoundsMode: 'none',
    }));
    const xAxes = GRID_TOPS.map((_, i) => ({
      type: 'value',
      gridIndex: i,
      position: 'bottom',
      min: -39,
      max: 1040,
      name: X_NAME,
      nameLocation: 'middle',
      nameGap: X_NAME_GAPS[i],
      nameMoveOverlap: false,
      nameTextStyle: { fontFamily: MAIN_FONT, fontSize: 20.5, color: INK },
      axisLine: { show: true, onZero: false, lineStyle: { color: '#1a1a1a', width: 2 } },
      splitLine: { show: false },
      axisTick: { show: true, inside: false, length: 9, customValues: X_TICKS, lineStyle: { color: INK, width: 1.5 } },
      axisLabel: {
        customValues: X_TICKS,
        fontFamily: MAIN_FONT,
        fontSize: 18,
        color: INK,
        margin: 21,
        formatter: (v: number) => String(v),
      },
    }));
    const yAxes = GRID_TOPS.map((_, i) => ({
      type: 'value',
      gridIndex: i,
      position: 'left',
      min: Y_RANGES[i][0],
      max: Y_RANGES[i][1],
      name: Y_NAME,
      nameLocation: 'middle',
      nameGap: 50,
      nameMoveOverlap: false,
      nameTextStyle: { fontFamily: MAIN_FONT, fontSize: 20, color: INK },
      axisLine: { show: true, onZero: false, lineStyle: { color: '#1a1a1a', width: 2 } },
      splitLine: { show: false },
      axisTick: { show: true, inside: false, length: 8.5, customValues: yTicks[i], lineStyle: { color: INK, width: 1.5 } },
      axisLabel: {
        customValues: yLabels[i],
        rotate: 90,
        fontFamily: MAIN_FONT,
        fontSize: 18,
        color: INK,
        margin: 16,
        formatter: (v: number) => String(v),
      },
    }));
    const series = datasets.map((data, i) => ({
      type: 'scatter',
      xAxisIndex: i,
      yAxisIndex: i,
      data,
      symbol: 'circle',
      symbolSize: 6.5,
      itemStyle: { color: 'rgba(0,0,0,0)', borderColor: '#050505', borderWidth: 1.7, opacity: 1 },
      emphasis: { disabled: true },
      silent: true,
    }));
    const graphic = [
      ...TITLES.map((t, i) => ({
        type: 'text',
        x: 536,
        y: GRID_TOPS[i] - 25,
        style: {
          text: t,
          font: `bold 23px ${MAIN_FONT}`,
          fill: INK,
          align: 'center',
          verticalAlign: 'middle',
        },
      })),
      {
        type: 'line',
        shape: { x1: 12, y1: 13, x2: 12, y2: 462 },
        style: { stroke: '#8a8a8a', lineWidth: 1.5 },
      },
    ];
    chart.setOption({
      animation: false,
      backgroundColor: '#fff',
      grid: grids,
      xAxis: xAxes,
      yAxis: yAxes,
      series,
      graphic,
    });
    return () => chart.dispose();
  }, []);
  return <div ref={ref} style={{ position: 'fixed', left: 0, top: 0, width: 983, height: 913 }} />;
}
